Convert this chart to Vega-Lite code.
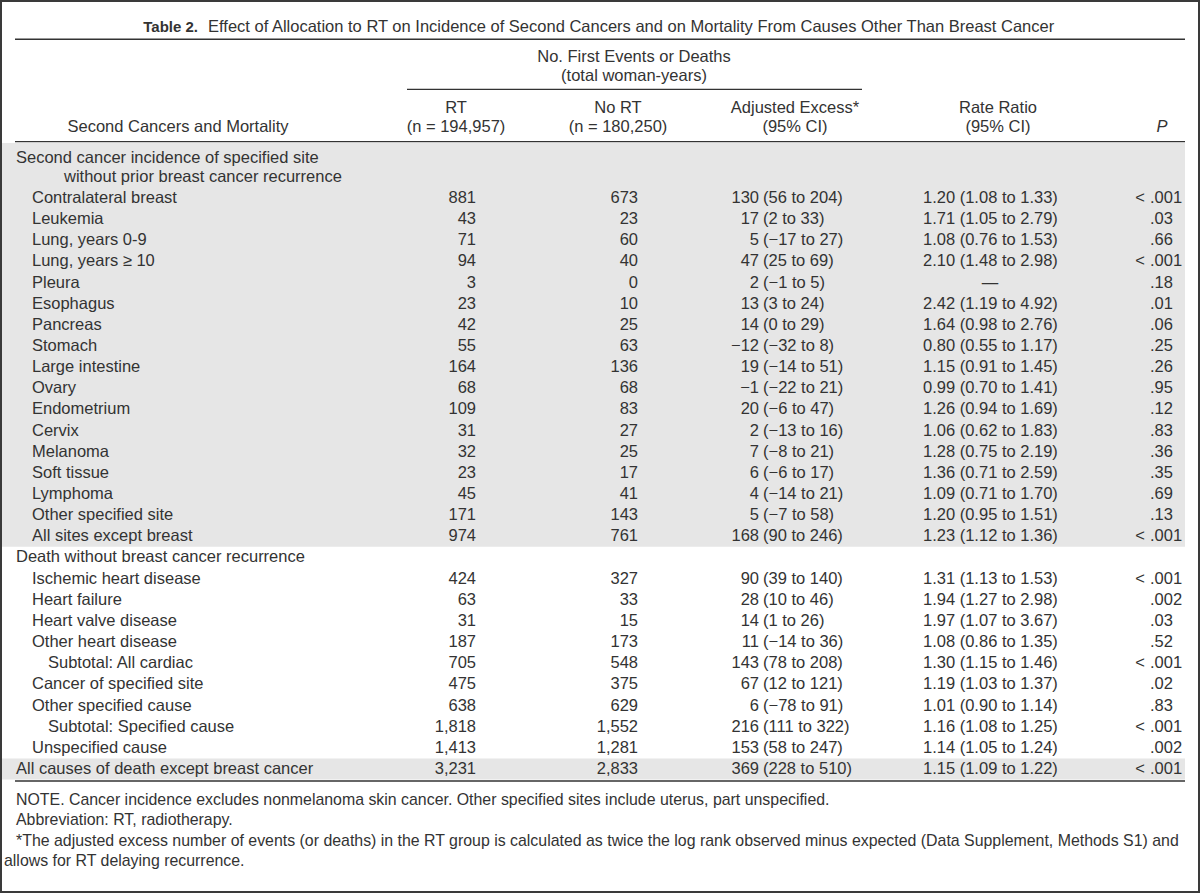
{
  "$schema": "https://vega.github.io/schema/vega-lite/v6.json",
  "width": 1200,
  "height": 893,
  "padding": 0,
  "autosize": "none",
  "background": "white",
  "config": {
    "view": {"stroke": "#3a3a3a", "strokeWidth": 4},
    "text": {"font": "Liberation Sans", "fontSize": 16.5, "color": "#333333", "baseline": "middle"},
    "rule": {"color": "#333333", "strokeWidth": 1.4}
  },
  "datasets": {
    "rows": [
      {"line": -1.9, "level": 0, "label": "Second cancer incidence of specified site"},
      {"line": -1, "level": 3, "label": "without prior breast cancer recurrence"},
      {"line": 0, "level": 1, "label": "Contralateral breast", "rt": "881", "nort": "673", "exn": "130", "exci": "(56 to 204)", "rr": "1.20 (1.08 to 1.33)", "pc": "<", "p": ".001"},
      {"line": 1, "level": 1, "label": "Leukemia", "rt": "43", "nort": "23", "exn": "17", "exci": "(2 to 33)", "rr": "1.71 (1.05 to 2.79)", "pc": "", "p": ".03"},
      {"line": 2, "level": 1, "label": "Lung, years 0-9", "rt": "71", "nort": "60", "exn": "5", "exci": "(−17 to 27)", "rr": "1.08 (0.76 to 1.53)", "pc": "", "p": ".66"},
      {"line": 3, "level": 1, "label": "Lung, years ≥ 10", "rt": "94", "nort": "40", "exn": "47", "exci": "(25 to 69)", "rr": "2.10 (1.48 to 2.98)", "pc": "<", "p": ".001"},
      {"line": 4, "level": 1, "label": "Pleura", "rt": "3", "nort": "0", "exn": "2", "exci": "(−1 to 5)", "rr": "—", "pc": "", "p": ".18"},
      {"line": 5, "level": 1, "label": "Esophagus", "rt": "23", "nort": "10", "exn": "13", "exci": "(3 to 24)", "rr": "2.42 (1.19 to 4.92)", "pc": "", "p": ".01"},
      {"line": 6, "level": 1, "label": "Pancreas", "rt": "42", "nort": "25", "exn": "14", "exci": "(0 to 29)", "rr": "1.64 (0.98 to 2.76)", "pc": "", "p": ".06"},
      {"line": 7, "level": 1, "label": "Stomach", "rt": "55", "nort": "63", "exn": "−12", "exci": "(−32 to 8)", "rr": "0.80 (0.55 to 1.17)", "pc": "", "p": ".25"},
      {"line": 8, "level": 1, "label": "Large intestine", "rt": "164", "nort": "136", "exn": "19", "exci": "(−14 to 51)", "rr": "1.15 (0.91 to 1.45)", "pc": "", "p": ".26"},
      {"line": 9, "level": 1, "label": "Ovary", "rt": "68", "nort": "68", "exn": "−1", "exci": "(−22 to 21)", "rr": "0.99 (0.70 to 1.41)", "pc": "", "p": ".95"},
      {"line": 10, "level": 1, "label": "Endometrium", "rt": "109", "nort": "83", "exn": "20", "exci": "(−6 to 47)", "rr": "1.26 (0.94 to 1.69)", "pc": "", "p": ".12"},
      {"line": 11, "level": 1, "label": "Cervix", "rt": "31", "nort": "27", "exn": "2", "exci": "(−13 to 16)", "rr": "1.06 (0.62 to 1.83)", "pc": "", "p": ".83"},
      {"line": 12, "level": 1, "label": "Melanoma", "rt": "32", "nort": "25", "exn": "7", "exci": "(−8 to 21)", "rr": "1.28 (0.75 to 2.19)", "pc": "", "p": ".36"},
      {"line": 13, "level": 1, "label": "Soft tissue", "rt": "23", "nort": "17", "exn": "6", "exci": "(−6 to 17)", "rr": "1.36 (0.71 to 2.59)", "pc": "", "p": ".35"},
      {"line": 14, "level": 1, "label": "Lymphoma", "rt": "45", "nort": "41", "exn": "4", "exci": "(−14 to 21)", "rr": "1.09 (0.71 to 1.70)", "pc": "", "p": ".69"},
      {"line": 15, "level": 1, "label": "Other specified site", "rt": "171", "nort": "143", "exn": "5", "exci": "(−7 to 58)", "rr": "1.20 (0.95 to 1.51)", "pc": "", "p": ".13"},
      {"line": 16, "level": 1, "label": "All sites except breast", "rt": "974", "nort": "761", "exn": "168", "exci": "(90 to 246)", "rr": "1.23 (1.12 to 1.36)", "pc": "<", "p": ".001"},
      {"line": 17, "level": 0, "label": "Death without breast cancer recurrence"},
      {"line": 18, "level": 1, "label": "Ischemic heart disease", "rt": "424", "nort": "327", "exn": "90", "exci": "(39 to 140)", "rr": "1.31 (1.13 to 1.53)", "pc": "<", "p": ".001"},
      {"line": 19, "level": 1, "label": "Heart failure", "rt": "63", "nort": "33", "exn": "28", "exci": "(10 to 46)", "rr": "1.94 (1.27 to 2.98)", "pc": "", "p": ".002"},
      {"line": 20, "level": 1, "label": "Heart valve disease", "rt": "31", "nort": "15", "exn": "14", "exci": "(1 to 26)", "rr": "1.97 (1.07 to 3.67)", "pc": "", "p": ".03"},
      {"line": 21, "level": 1, "label": "Other heart disease", "rt": "187", "nort": "173", "exn": "11", "exci": "(−14 to 36)", "rr": "1.08 (0.86 to 1.35)", "pc": "", "p": ".52"},
      {"line": 22, "level": 2, "label": "Subtotal: All cardiac", "rt": "705", "nort": "548", "exn": "143", "exci": "(78 to 208)", "rr": "1.30 (1.15 to 1.46)", "pc": "<", "p": ".001"},
      {"line": 23, "level": 1, "label": "Cancer of specified site", "rt": "475", "nort": "375", "exn": "67", "exci": "(12 to 121)", "rr": "1.19 (1.03 to 1.37)", "pc": "", "p": ".02"},
      {"line": 24, "level": 1, "label": "Other specified cause", "rt": "638", "nort": "629", "exn": "6", "exci": "(−78 to 91)", "rr": "1.01 (0.90 to 1.14)", "pc": "", "p": ".83"},
      {"line": 25, "level": 2, "label": "Subtotal: Specified cause", "rt": "1,818", "nort": "1,552", "exn": "216", "exci": "(111 to 322)", "rr": "1.16 (1.08 to 1.25)", "pc": "<", "p": ".001"},
      {"line": 26, "level": 1, "label": "Unspecified cause", "rt": "1,413", "nort": "1,281", "exn": "153", "exci": "(58 to 247)", "rr": "1.14 (1.05 to 1.24)", "pc": "", "p": ".002"},
      {"line": 27, "level": 0, "label": "All causes of death except breast cancer", "rt": "3,231", "nort": "2,833", "exn": "369", "exci": "(228 to 510)", "rr": "1.15 (1.09 to 1.22)", "pc": "<", "p": ".001"}
    ],
    "head": [
      {"col": "label", "line": -3.37, "text": "Second Cancers and Mortality"},
      {"col": "group", "line": -6.65, "text": "No. First Events or Deaths"},
      {"col": "group", "line": -5.75, "text": "(total woman-years)"},
      {"col": "rt", "line": -4.23, "text": "RT"},
      {"col": "rt", "line": -3.37, "text": "(n = 194,957)"},
      {"col": "nort", "line": -4.23, "text": "No RT"},
      {"col": "nort", "line": -3.37, "text": "(n = 180,250)"},
      {"col": "exc", "line": -4.23, "text": "Adjusted Excess*"},
      {"col": "exc", "line": -3.37, "text": "(95% CI)"},
      {"col": "rr", "line": -4.23, "text": "Rate Ratio"},
      {"col": "rr", "line": -3.37, "text": "(95% CI)"},
      {"col": "p", "line": -3.37, "text": "P"}
    ],
    "title": [
      {"part": "num", "line": -8.09, "text": "Table 2."},
      {"part": "rest", "line": -8.09, "text": "Effect of Allocation to RT on Incidence of Second Cancers and on Mortality From Causes Other Than Breast Cancer"}
    ],
    "notes": [
      {"cont": false, "line": 28.47, "text": "NOTE. Cancer incidence excludes nonmelanoma skin cancer. Other specified sites include uterus, part unspecified."},
      {"cont": false, "line": 29.41, "text": "Abbreviation: RT, radiotherapy."},
      {"cont": false, "line": 30.4, "text": "*The adjusted excess number of events (or deaths) in the RT group is calculated as twice the log rank observed minus expected (Data Supplement, Methods S1) and"},
      {"cont": true, "line": 31.35, "text": "allows for RT delaying recurrence."}
    ],
    "bands": [{"band": "second cancers"}, {"band": "all causes"}],
    "rules": [{"r": "title"}, {"r": "group"}, {"r": "header"}, {"r": "bottom"}]
  },
  "layer": [
    {
      "data": {"name": "bands"},
      "transform": [{"filter": "datum.band == 'second cancers'"}],
      "mark": {"type": "rect", "color": "#e6e6e6"},
      "encoding": {
        "x": {"datum": 2, "type": "quantitative", "scale": {"type": "linear", "domain": [0, 1200], "range": [0, 1200], "zero": false, "nice": false}, "axis": null},
        "x2": {"datum": 1185},
        "y": {"datum": -2.6, "type": "quantitative", "scale": {"type": "linear", "domain": [0, 27], "range": [197.9, 769], "zero": false, "nice": false}, "axis": null},
        "y2": {"datum": 16.49}
      }
    },
    {
      "data": {"name": "bands"},
      "transform": [{"filter": "datum.band == 'all causes'"}],
      "mark": {"type": "rect", "color": "#e6e6e6"},
      "encoding": {
        "x": {"datum": 2, "type": "quantitative", "axis": null},
        "x2": {"datum": 1185},
        "y": {"datum": 26.5, "type": "quantitative", "axis": null},
        "y2": {"datum": 27.5}
      }
    },
    {
      "data": {"name": "rules"},
      "transform": [{"filter": "datum.r == 'title'"}],
      "mark": {"type": "rule"},
      "encoding": {
        "x": {"datum": 15, "type": "quantitative", "axis": null},
        "x2": {"datum": 1185},
        "y": {"datum": -7.5, "type": "quantitative", "axis": null}
      }
    },
    {
      "data": {"name": "rules"},
      "transform": [{"filter": "datum.r == 'group'"}],
      "mark": {"type": "rule"},
      "encoding": {
        "x": {"datum": 407, "type": "quantitative", "axis": null},
        "x2": {"datum": 862},
        "y": {"datum": -5.13, "type": "quantitative", "axis": null}
      }
    },
    {
      "data": {"name": "rules"},
      "transform": [{"filter": "datum.r == 'header'"}],
      "mark": {"type": "rule"},
      "encoding": {
        "x": {"datum": 15, "type": "quantitative", "axis": null},
        "x2": {"datum": 1185},
        "y": {"datum": -2.66, "type": "quantitative", "axis": null}
      }
    },
    {
      "data": {"name": "rules"},
      "transform": [{"filter": "datum.r == 'bottom'"}],
      "mark": {"type": "rule"},
      "encoding": {
        "x": {"datum": 15, "type": "quantitative", "axis": null},
        "x2": {"datum": 1185},
        "y": {"datum": 27.57, "type": "quantitative", "axis": null}
      }
    },
    {
      "data": {"name": "title"},
      "transform": [{"filter": "datum.part == 'num'"}],
      "mark": {"type": "text", "align": "right", "fontWeight": "bold", "fontSize": 15},
      "encoding": {
        "x": {"datum": 198, "type": "quantitative", "axis": null},
        "y": {"field": "line", "type": "quantitative", "axis": null},
        "text": {"field": "text"}
      }
    },
    {
      "data": {"name": "title"},
      "transform": [{"filter": "datum.part == 'rest'"}],
      "mark": {"type": "text", "align": "left"},
      "encoding": {
        "x": {"datum": 208, "type": "quantitative", "axis": null},
        "y": {"field": "line", "type": "quantitative", "axis": null},
        "text": {"field": "text"}
      }
    },
    {
      "data": {"name": "head"},
      "transform": [{"filter": "datum.col == 'label'"}],
      "mark": {"type": "text", "align": "center"},
      "encoding": {"x": {"datum": 178, "type": "quantitative", "axis": null}, "y": {"field": "line", "type": "quantitative", "axis": null}, "text": {"field": "text"}}
    },
    {
      "data": {"name": "head"},
      "transform": [{"filter": "datum.col == 'group'"}],
      "mark": {"type": "text", "align": "center"},
      "encoding": {"x": {"datum": 634, "type": "quantitative", "axis": null}, "y": {"field": "line", "type": "quantitative", "axis": null}, "text": {"field": "text"}}
    },
    {
      "data": {"name": "head"},
      "transform": [{"filter": "datum.col == 'rt'"}],
      "mark": {"type": "text", "align": "center"},
      "encoding": {"x": {"datum": 456, "type": "quantitative", "axis": null}, "y": {"field": "line", "type": "quantitative", "axis": null}, "text": {"field": "text"}}
    },
    {
      "data": {"name": "head"},
      "transform": [{"filter": "datum.col == 'nort'"}],
      "mark": {"type": "text", "align": "center"},
      "encoding": {"x": {"datum": 618, "type": "quantitative", "axis": null}, "y": {"field": "line", "type": "quantitative", "axis": null}, "text": {"field": "text"}}
    },
    {
      "data": {"name": "head"},
      "transform": [{"filter": "datum.col == 'exc'"}],
      "mark": {"type": "text", "align": "center"},
      "encoding": {"x": {"datum": 795, "type": "quantitative", "axis": null}, "y": {"field": "line", "type": "quantitative", "axis": null}, "text": {"field": "text"}}
    },
    {
      "data": {"name": "head"},
      "transform": [{"filter": "datum.col == 'rr'"}],
      "mark": {"type": "text", "align": "center"},
      "encoding": {"x": {"datum": 998, "type": "quantitative", "axis": null}, "y": {"field": "line", "type": "quantitative", "axis": null}, "text": {"field": "text"}}
    },
    {
      "data": {"name": "head"},
      "transform": [{"filter": "datum.col == 'p'"}],
      "mark": {"type": "text", "align": "center", "fontStyle": "italic"},
      "encoding": {"x": {"datum": 1162, "type": "quantitative", "axis": null}, "y": {"field": "line", "type": "quantitative", "axis": null}, "text": {"field": "text"}}
    },
    {
      "data": {"name": "rows"},
      "transform": [{"filter": "datum.level == 0"}],
      "mark": {"type": "text", "align": "left"},
      "encoding": {"x": {"datum": 16, "type": "quantitative", "axis": null}, "y": {"field": "line", "type": "quantitative", "axis": null}, "text": {"field": "label"}}
    },
    {
      "data": {"name": "rows"},
      "transform": [{"filter": "datum.level == 1"}],
      "mark": {"type": "text", "align": "left"},
      "encoding": {"x": {"datum": 32, "type": "quantitative", "axis": null}, "y": {"field": "line", "type": "quantitative", "axis": null}, "text": {"field": "label"}}
    },
    {
      "data": {"name": "rows"},
      "transform": [{"filter": "datum.level == 2"}],
      "mark": {"type": "text", "align": "left"},
      "encoding": {"x": {"datum": 48, "type": "quantitative", "axis": null}, "y": {"field": "line", "type": "quantitative", "axis": null}, "text": {"field": "label"}}
    },
    {
      "data": {"name": "rows"},
      "transform": [{"filter": "datum.level == 3"}],
      "mark": {"type": "text", "align": "left"},
      "encoding": {"x": {"datum": 64, "type": "quantitative", "axis": null}, "y": {"field": "line", "type": "quantitative", "axis": null}, "text": {"field": "label"}}
    },
    {
      "data": {"name": "rows"},
      "transform": [{"filter": "datum.rt"}],
      "mark": {"type": "text", "align": "right"},
      "encoding": {"x": {"datum": 476, "type": "quantitative", "axis": null}, "y": {"field": "line", "type": "quantitative", "axis": null}, "text": {"field": "rt"}}
    },
    {
      "data": {"name": "rows"},
      "transform": [{"filter": "datum.nort"}],
      "mark": {"type": "text", "align": "right"},
      "encoding": {"x": {"datum": 638, "type": "quantitative", "axis": null}, "y": {"field": "line", "type": "quantitative", "axis": null}, "text": {"field": "nort"}}
    },
    {
      "data": {"name": "rows"},
      "transform": [{"filter": "datum.exn"}],
      "mark": {"type": "text", "align": "right"},
      "encoding": {"x": {"datum": 759, "type": "quantitative", "axis": null}, "y": {"field": "line", "type": "quantitative", "axis": null}, "text": {"field": "exn"}}
    },
    {
      "data": {"name": "rows"},
      "transform": [{"filter": "datum.exci"}],
      "mark": {"type": "text", "align": "left"},
      "encoding": {"x": {"datum": 763, "type": "quantitative", "axis": null}, "y": {"field": "line", "type": "quantitative", "axis": null}, "text": {"field": "exci"}}
    },
    {
      "data": {"name": "rows"},
      "transform": [{"filter": "datum.rr && datum.rr != '—'"}],
      "mark": {"type": "text", "align": "left"},
      "encoding": {"x": {"datum": 923, "type": "quantitative", "axis": null}, "y": {"field": "line", "type": "quantitative", "axis": null}, "text": {"field": "rr"}}
    },
    {
      "data": {"name": "rows"},
      "transform": [{"filter": "datum.rr == '—'"}],
      "mark": {"type": "text", "align": "center"},
      "encoding": {"x": {"datum": 990, "type": "quantitative", "axis": null}, "y": {"field": "line", "type": "quantitative", "axis": null}, "text": {"field": "rr"}}
    },
    {
      "data": {"name": "rows"},
      "transform": [{"filter": "datum.pc"}],
      "mark": {"type": "text", "align": "right"},
      "encoding": {"x": {"datum": 1145, "type": "quantitative", "axis": null}, "y": {"field": "line", "type": "quantitative", "axis": null}, "text": {"field": "pc"}}
    },
    {
      "data": {"name": "rows"},
      "transform": [{"filter": "datum.p"}],
      "mark": {"type": "text", "align": "left"},
      "encoding": {"x": {"datum": 1150, "type": "quantitative", "axis": null}, "y": {"field": "line", "type": "quantitative", "axis": null}, "text": {"field": "p"}}
    },
    {
      "data": {"name": "notes"},
      "transform": [{"filter": "!datum.cont"}],
      "mark": {"type": "text", "align": "left", "fontSize": 15.9},
      "encoding": {"x": {"datum": 16, "type": "quantitative", "axis": null}, "y": {"field": "line", "type": "quantitative", "axis": null}, "text": {"field": "text"}}
    },
    {
      "data": {"name": "notes"},
      "transform": [{"filter": "datum.cont"}],
      "mark": {"type": "text", "align": "left", "fontSize": 15.9},
      "encoding": {"x": {"datum": 4, "type": "quantitative", "axis": null}, "y": {"field": "line", "type": "quantitative", "axis": null}, "text": {"field": "text"}}
    }
  ]
}
